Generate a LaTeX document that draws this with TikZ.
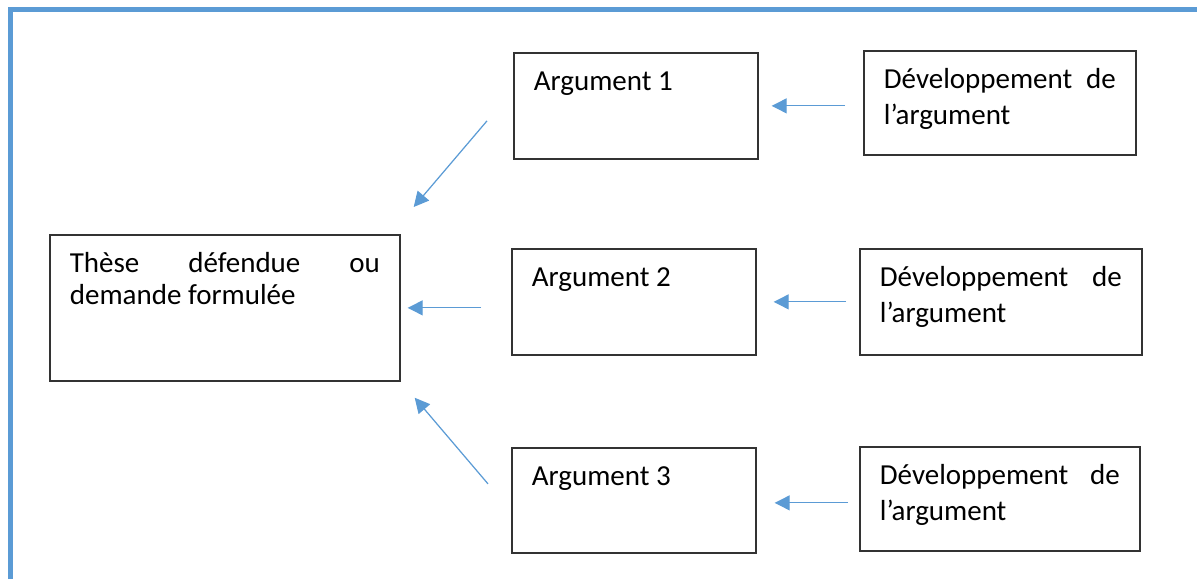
\documentclass[tikz,border=0pt]{standalone}
\usepackage{fontspec}
\setmainfont{Carlito}
\usepackage{xcolor}
\usepackage{tikz}
\usetikzlibrary{arrows.meta,calc}

\definecolor{accentblue}{HTML}{5B9BD5}

\tikzset{
    frame/.style={
        line width=0.1cm,
        draw=accentblue,
        line join=miter
    },
    box/.style={
        draw=black!80,
        line width=1pt,
        anchor=north west,
        inner xsep=0.4cm,
        inner ysep=0.36cm,
        text height=0.4cm,
        align=justify,
        font=\fontsize{16.5pt}{20.2pt}\selectfont
    },
    link/.style={
        draw=accentblue,
        line width=0.7pt,
        -{Triangle[length=0.3cm,width=0.3cm]}
    }
}

\begin{document}
\begin{tikzpicture}[x=0.02cm, y=-0.02cm]
                \useasboundingbox (0,0) rectangle (1197,579);

                % page frame
                \draw[frame] (10.5,579) -- (10.5,9.5) -- (1197,9.5);

                % thesis
                \node[
                    box,
                    text width=6.2cm,
                    text depth=1.8cm,
                    font=\fontsize{16.5pt}{17.9pt}\selectfont
                ] (these) at (49,234) {Thèse défendue ou\linebreak demande formulée};

                % arguments
                \node[box, text width=4.08cm, text depth=1.0cm] (arg1) at (513,52) {Argument 1};
                \node[box, text width=4.08cm, text depth=1.0cm] (arg2) at (511,248) {Argument 2};
                \node[box, text width=4.08cm, text depth=0.98cm] (arg3) at (511,447) {Argument 3};

                % developments
                \node[box, text width=4.64cm, text depth=0.96cm] (dev1) at (863,50) {Développement de\linebreak l’argument};
                \node[box, text width=4.84cm, text depth=1.0cm] (dev2) at (859,248) {Développement de\linebreak l’argument};
                \node[box, text width=4.8cm, text depth=0.96cm] (dev3) at (859,446) {Développement de\linebreak l’argument};

                % arguments towards the thesis
                \draw[link] ($(arg1.west)+(-26,15)$) -- ($(these.north east)+(13,-27)$);
                \draw[link, shorten <=0.6cm, shorten >=0.14cm] (arg2.west |- these.east) -- (these.east);
                \draw[link] ($(arg3.west)+(-23,-16.5)$) -- ($(these.south east)+(14,16)$);

                % developments towards the arguments
                \draw[link, shorten <=0.36cm, shorten >=0.26cm] (dev1.west |- arg1.east) -- (arg1.east);
                \draw[link, shorten <=0.26cm, shorten >=0.34cm] (dev2.west |- arg2.east) -- (arg2.east);
                \draw[link, shorten <=0.22cm, shorten >=0.36cm] ($(dev3.west |- arg3.east)+(0,2.5)$) -- ($(arg3.east)+(0,2.5)$);

\end{tikzpicture}
\end{document}
